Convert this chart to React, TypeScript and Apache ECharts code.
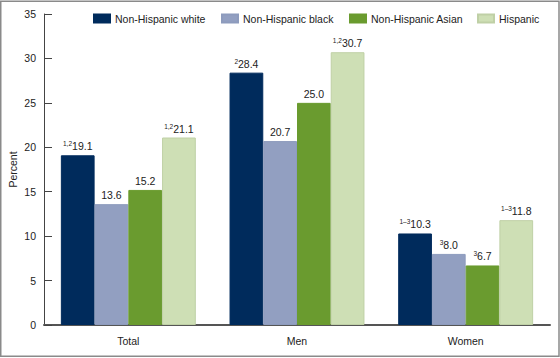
import React, { useEffect, useRef } from "react";
import * as echarts from "echarts";

const categories = ["Total", "Men", "Women"];
const seriesNames = ["Non-Hispanic white", "Non-Hispanic black", "Non-Hispanic Asian", "Hispanic"];
const whiteValues = [19.1, 28.4, 10.3];
const blackValues = [13.6, 20.7, 8.0];
const asianValues = [15.2, 25.0, 6.7];
const hispanicValues = [21.1, 30.7, 11.8];
const whiteNotes = ["1,2", "2", "1\u20133"];
const blackNotes = ["", "", "3"];
const asianNotes = ["", "", "3"];
const hispanicNotes = ["1,2", "1,2", "1\u20133"];
const yTicks = [0, 5, 10, 15, 20, 25, 30, 35];

const colors = ["#002B5C", "#929FC1", "#6A9B2F", "#CEDFB5"];
const borderColors = ["#002B5C", "#8D9BBD", "#6A9B2F", "#BFD0A6"];
const legendLefts = [93, 221, 349, 477];

export default function App() {
  const ref = useRef<HTMLDivElement>(null);
  useEffect(() => {
    if (!ref.current) return;
    const chart = echarts.init(ref.current, null, { renderer: "svg" });
    const all = [whiteValues, blackValues, asianValues, hispanicValues];
    const notes = [whiteNotes, blackNotes, asianNotes, hispanicNotes];
    const font = "Liberation Sans, Arial, sans-serif";
    chart.setOption({
      animation: false,
      textStyle: { fontFamily: font },
      graphic: [
        {
          type: "rect",
          shape: { x: 0.75, y: 1.25, width: 558.25, height: 355 },
          style: { fill: "none", stroke: "#8a8a8a", lineWidth: 1.5 },
          silent: true,
        },
      ],
      legend: seriesNames.map((name, i) => ({
        left: legendLefts[i],
        top: 13,
        padding: 0,
        itemWidth: 16,
        itemHeight: 8,
        icon: "rect",
        textStyle: { fontSize: 10.5, color: "#222", fontFamily: font },
        data: [name],
      })),
      grid: { left: 44, right: 10, top: 14, bottom: 33, outerBoundsMode: "none", containLabel: false },
      xAxis: {
        type: "category",
        data: categories,
        axisLine: { lineStyle: { color: "#555", width: 2 } },
        axisTick: { show: false },
        axisLabel: { fontSize: 10.5, color: "#222", margin: 10, fontFamily: font },
      },
      yAxis: {
        type: "value",
        min: yTicks[0],
        max: yTicks[yTicks.length - 1],
        interval: 5,
        name: "Percent",
        nameLocation: "middle",
        nameRotate: 90,
        nameGap: 26,
        nameMoveOverlap: false,
        nameTextStyle: { fontSize: 10.5, color: "#222", fontFamily: font },
        axisLine: { show: true, lineStyle: { color: "#444", width: 1 } },
        axisTick: { show: true, inside: true, length: 8, lineStyle: { color: "#444" } },
        splitLine: { show: false },
        axisLabel: { fontSize: 10.5, color: "#222", margin: 8, fontFamily: font },
      },
      series: seriesNames.map((name, si) => ({
        name,
        type: "bar",
        barGap: "0%",
        barCategoryGap: "20%",
        itemStyle: { color: colors[si], borderColor: borderColors[si], borderWidth: 1 },
        data: all[si].map((v, ci) => ({
          value: v,
          label: {
            show: true,
            position: "top",
            distance: 3,
            formatter: () =>
              (notes[si][ci] ? `{sup|${notes[si][ci]}}` : "") + `{val|${v.toFixed(1)}}`,
            rich: {
              sup: { fontSize: 6.5, color: "#222", verticalAlign: "top", lineHeight: 12, fontFamily: font },
              val: { fontSize: 10.5, color: "#222", lineHeight: 12, fontFamily: font },
            },
          },
        })),
      })),
    });
    return () => chart.dispose();
  }, []);
  return (
    <div
      ref={ref}
      style={{ position: "absolute", left: 0, top: 0, width: 560, height: 358, background: "#fff" }}
    />
  );
}
